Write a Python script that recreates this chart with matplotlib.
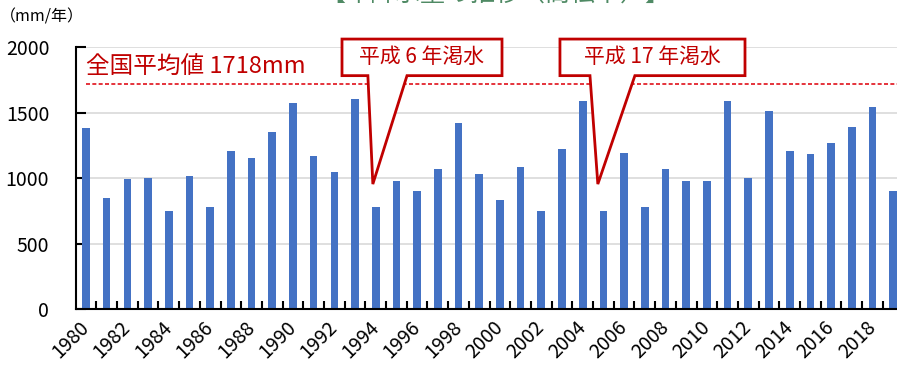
import numpy as np
import matplotlib
matplotlib.use("Agg")
import matplotlib.pyplot as plt
from matplotlib.patches import Polygon

plt.rcParams['font.family'] = ['Noto Sans CJK JP', 'DejaVu Sans']

years = list(range(1980, 2020))
rain = [1380, 850, 990, 1000, 752, 1015, 779, 1210, 1155, 1351,
        1571, 1170, 1045, 1601, 779, 975, 905, 1070, 1421, 1030,
        834, 1085, 752, 1225, 1586, 752, 1195, 779, 1070, 975,
        975, 1586, 1000, 1516, 1210, 1185, 1266, 1391, 1544, 905]
national_avg = 1718
drought_labels = ['平成 6 年渇水', '平成 17 年渇水']
drought_years = [1994, 2005]

red = '#C00000'
blue = '#4472C4'

fig = plt.figure(figsize=(8.97, 3.72), dpi=100)
ax = fig.add_axes([0.0843, 0.1685, 0.923, 0.705])

x = np.arange(len(years))
ax.bar(x, rain, width=0.37, color=blue, zorder=2)

ax.set_xlim(-0.5, len(years) - 0.5)
ax.set_ylim(0, 2000)
ax.set_yticks([0, 500, 1000, 1500, 2000])
ax.yaxis.grid(True, color='#D9D9D9', lw=1.2, zorder=0)
ax.set_axisbelow(True)

# category labels every two years, tick marks between bars
ax.set_xticks(x[::2])
ax.set_xticklabels([str(y) for y in years[::2]], rotation=45, ha='right',
                   va='center', rotation_mode='anchor')
ax.set_xticks(x[:-1] + 0.5, minor=True)
ax.tick_params(axis='x', which='major', length=0, pad=11, labelsize=14)
ax.tick_params(axis='x', which='minor', length=6, width=1.5, direction='in')
ax.tick_params(axis='y', length=7, width=1.5, direction='in', pad=19,
               labelsize=14)

for s in ['top', 'right']:
    ax.spines[s].set_visible(False)
for s in ['left', 'bottom']:
    ax.spines[s].set_linewidth(1.5)

# national average line
ax.hlines(national_avg, 0, len(years) - 0.5, colors='#E0101A', lw=1.2,
          linestyles=(0, (2.4, 1.4)), zorder=3)
ax.text(0, 1842, f'全国平均値 {national_avg}mm', color=red, fontsize=17,
        va='center', ha='left')

# drought callouts
callouts = [
    # box x0, box x1, pointer left, pointer right, tip x
    (12.37, 20.10, 13.62, 15.51, 13.86),
    (22.90, 31.84, 24.35, 26.52, 24.73),
]
y_top, y_bot, y_tip = 2061, 1782, 955
for label, (bx0, bx1, pl, pr, tx) in zip(drought_labels, callouts):
    pts = [(bx0, y_top), (bx1, y_top), (bx1, y_bot), (pr, y_bot),
           (tx, y_tip), (pl, y_bot), (bx0, y_bot)]
    ax.add_patch(Polygon(pts, closed=True, fc='white', ec=red, lw=2,
                         joinstyle='miter', clip_on=False, zorder=5))
    ax.text((bx0 + bx1) / 2, (y_top + y_bot) / 2, label, color=red,
            fontsize=15, ha='center', va='center', zorder=6)

fig.text(0, 1 - 17 / 372, '（mm/年）', fontsize=11.5, ha='left',
         va='center')
fig.text(495 / 897, 1 + 6 / 372, '【年降水量の推移（高松市）】', fontsize=18,
         color='#4F8A64', ha='center', va='center')

fig.savefig('out.png', dpi=100)
